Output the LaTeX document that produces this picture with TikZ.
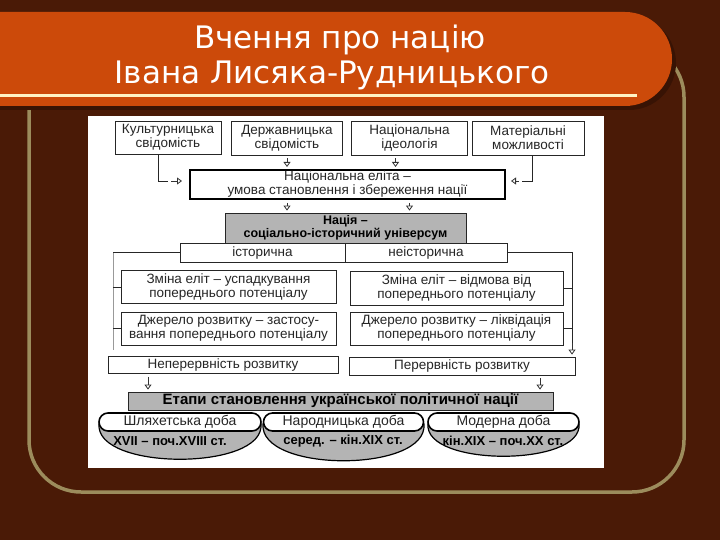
\documentclass[tikz,border=0pt]{standalone}
\usepackage{fontspec}
\setmainfont{Liberation Sans}
\newfontfamily\titlefont{DejaVu Sans}
\usetikzlibrary{arrows.meta}
\definecolor{bgc}{HTML}{4A1A06}
\definecolor{barc}{HTML}{CC4A0A}
\definecolor{shadc}{HTML}{381304}
\definecolor{framec}{HTML}{9C8C5C}
\definecolor{creamc}{HTML}{FFF3C4}
\definecolor{halfc}{HTML}{B4B4B4}
\begin{document}
\begin{tikzpicture}[x=1pt,y=-1pt,
  box/.style={draw=black!85, line width=0.8pt, fill=white, align=center, inner sep=0pt,
    text=black!85, font={\fontsize{13.5}{14}\selectfont}},
  onebox/.style={box, text height=9.5pt, text depth=2.5pt},
  halfbox/.style={box, fill=halfc, text=black, font={\bfseries\fontsize{12.5}{13}\selectfont}},
  pill/.style={draw=black, line width=1.6pt, fill=white, rounded corners=9pt, inner sep=0pt,
    minimum height=18pt, text height=9.5pt, text depth=2.5pt, text=black!85, font={\fontsize{14}{14}\selectfont}},
  bowltxt/.style={inner sep=0pt, text=black, font={\bfseries\fontsize{13}{13}\selectfont}},
  bowl/.style={draw=black, line width=1.2pt, fill=halfc},
  line/.style={draw=black!85, line width=0.8pt},
  faint/.style={draw=black!40, line width=0.6pt},
  hol/.style={draw=black!80, line width=0.8pt, -{Triangle[open,width=7pt,length=5pt]},
    shorten <=3pt, shorten >=2pt},
  title/.style={text=white, inner sep=0pt, font={\titlefont\fontsize{31}{32}\selectfont}}
]
\useasboundingbox (0,0) rectangle (720,540);
\clip (0,0) rectangle (720,540);
\fill[bgc] (0,0) rectangle (720,540);
% frame
\draw[framec, line width=3.5pt, rounded corners=52pt] (29,45) rectangle (684,492);
% title bar
\fill[shadc, rounded corners=47pt] (-80,16) rectangle (676,110);
\fill[barc, rounded corners=47pt] (-80,12) rectangle (672,106);
\draw[creamc, line width=3pt] (0,96) -- (637,96);
\node[title] (t1) at (340,40) {Вчення про націю};
\node[title] (t2) at (332,75) {Івана Лисяка-Рудницького};
% image area
\fill[white] (88,116) rectangle (604,468);

% row 1
\node[box, minimum width=106pt, minimum height=33pt] (b1) at (168,137.5) {Культурницька\\свідомість};
\node[box, minimum width=111pt, minimum height=34pt] (b2) at (287,138) {Державницька\\свідомість};
\node[box, minimum width=116pt, minimum height=34pt] (b3) at (409.5,138) {Національна\\ідеологія};
\node[box, minimum width=112pt, minimum height=34pt] (b4) at (528,138) {Матеріальні\\можливості};
% elite
\node[box, line width=2pt, draw=black, minimum width=315pt, minimum height=29pt] (elite) at (347.5,184.5)
  {Національна еліта –\\умова становлення і збереження нації};
% nation
\node[halfbox, minimum width=241pt, minimum height=30pt] (nation) at (345.5,228)
  {Нація –\\соціально-історичний універсум};
% historical
\node[onebox, minimum width=165pt, minimum height=19pt] (hist) at (262.5,252.5) {історична};
\node[onebox, minimum width=162pt, minimum height=19pt] (nonhist) at (426,252.5) {неісторична};
% rows
\node[box, minimum width=215pt, minimum height=33pt] (z1) at (228.5,287) {Зміна еліт – успадкування\\попереднього потенціалу};
\node[box, minimum width=213pt, minimum height=34pt] (z2) at (456.5,288) {Зміна еліт – відмова від\\попереднього потенціалу};
\node[box, minimum width=215pt, minimum height=33pt] (d1) at (228.5,328.5) {Джерело розвитку – застосу-\\вання попереднього потенціалу};
\node[box, minimum width=213pt, minimum height=33pt] (d2) at (456.5,328.5) {Джерело розвитку – ліквідація\\попереднього потенціалу};
\node[onebox, minimum width=230pt, minimum height=17pt] (n1) at (223,365) {Неперервність розвитку};
\node[onebox, minimum width=226pt, minimum height=18pt] (n2) at (462,366) {Перервність розвитку};
% stages
\node[halfbox, minimum width=425pt, minimum height=18pt, text height=10.5pt, text depth=3pt, font={\bfseries\fontsize{15}{15}\selectfont}] (etapy) at (340.5,401) {Етапи становлення української політичної нації};
% lenses
\filldraw[bowl] (99,424) .. controls (95,471) and (265,471) .. (261,424) -- cycle;
\filldraw[bowl] (263,424) .. controls (259,473) and (428,473) .. (424,424) -- cycle;
\filldraw[bowl] (428,424) .. controls (424,467) and (583,467) .. (579,424) -- cycle;
\node[pill, minimum width=162pt] (l1) at (180,422) {Шляхетська доба};
\node[pill, minimum width=160pt] (l2) at (343.5,422) {Народницька доба};
\node[pill, minimum width=151pt] (l3) at (503.5,422) {Модерна доба};
\node[bowltxt] (l1b) at (170,441) {XVII – поч.XVIII ст.};
\node[bowltxt] (l2b) at (343,441) {серед. – кін.XIX ст.};
\node[bowltxt] (l3b) at (503,441) {кін.XIX – поч.XX ст.};

% connectors
\draw[hol] (b2.south) -- (b2.south |- elite.north);
\draw[hol] ([xshift=-14pt]b3.south) -- ([xshift=-14pt]b3.south |- elite.north);
\draw[hol] (elite.south -| b2.south) -- (b2.south |- nation.north);
\draw[hol] (elite.south -| b3.south) -- (b3.south |- nation.north);
\coordinate (cL) at (168,181);
\coordinate (cR) at (522,181);
\draw[line] ([xshift=-10pt]b1.south) |- (cL);
\draw[hol, shorten >=7pt] (cL) -- (cL -| elite.west);
\draw[line] ([xshift=4pt]b4.south) |- (cR);
\draw[hol, shorten >=5pt] (cR) -- (cR -| elite.east);
% left branch
\coordinate (lv1) at (113,252.5);
\coordinate (lv2) at (113,350);
\draw[line] (hist.west) -- (lv1);
\draw[faint] (lv1) -- (lv2);
\draw[line] (z1.west) -- (z1.west -| lv1);
\draw[line] (d1.west) -- (d1.west -| lv1);
% right branch
\coordinate (rv1) at (572,252.5);
\coordinate (rv2) at (572,343);
\draw[line] (nonhist.east) -- (rv1) -- (rv2);
\draw[line] (z2.east) -- (z2.east -| rv1);
\draw[line] (d2.east) -- (d2.east -| rv1);
\draw[hol, shorten <=0pt] (rv2) -- (rv2 |- n2.north);
% to stages
\draw[hol] ([xshift=-75pt]n1.south) -- ([xshift=-75pt]n1.south |- etapy.north);
\draw[hol] ([xshift=78pt]n2.south) -- ([xshift=78pt]n2.south |- etapy.north);
\end{tikzpicture}
\end{document}
